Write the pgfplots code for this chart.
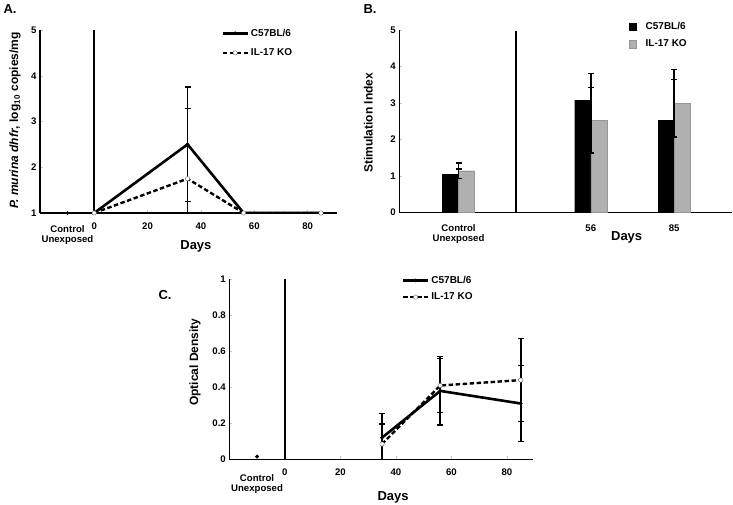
\documentclass[border=0pt]{standalone}
\usepackage{fontspec}
\setmainfont{Liberation Sans}
\usepackage{pgfplots}
\pgfplotsset{compat=1.18}
\definecolor{kogray}{HTML}{B0B0B0}
\newcommand{\ctrl}[1]{\raisebox{#1}[\height][\depth]{\shortstack{Control\\[0pt]Unexposed}}}
\pgfplotsset{
  myaxis/.style={
    scale only axis,
    anchor=south west,
    axis x line*=bottom,
    axis y line*=left,
    axis line style={line width=1.4pt,-},
    tick align=inside,
    tick style={draw=gray!45, line width=0.4pt},
    major tick length=3pt,
    /pgf/number format/assume math mode=true,
    every tick label/.append style={font=\bfseries\fontsize{9.6}{10}\selectfont},
    xticklabel style={align=center, yshift=-6pt},
    label style={font=\bfseries\fontsize{12}{13}\selectfont},
    every axis x label/.style={font=\bfseries\fontsize{13}{14}\selectfont},
    clip=true,
    legend cell align=left,
    legend style={draw=none, fill=none, inner sep=0pt, font=\bfseries\fontsize{10}{11}\selectfont},
    legend image code/.code={\draw[mark repeat=2,mark phase=2,##1] plot coordinates {(0pt,0pt) (12.5pt,0pt) (25pt,0pt)};},
  },
  c57/.style={black, line width=2.6pt, mark=*, mark size=1.6pt, mark options={solid, fill=black, line width=0.5pt},
    error bars/.cd, y dir=both, y explicit, error bar style={line width=1.8pt, solid}, error mark options={rotate=90, mark size=3pt, line width=1.5pt}},
  ko/.style={black, line width=2.4pt, dash pattern=on 4.5pt off 2.5pt, mark=*, mark size=2.2pt, mark options={solid, fill=white, draw=black!60, line width=0.4pt},
    error bars/.cd, y dir=both, y explicit, error bar style={line width=1.8pt, solid}, error mark options={rotate=90, mark size=3pt, line width=1.5pt}},
}
\begin{document}
\begin{tikzpicture}[x=1pt,y=1pt]
\path[use as bounding box] (0,0) rectangle (733,504);

% ---------------- Panel A ----------------
\begin{axis}[myaxis,
  at={(40pt,291pt)}, width=297pt, height=183pt,
  xmin=-20.3, xmax=91, ymin=1, ymax=5,
  xtick={0,20,40,60,80},
  extra x ticks={-10}, extra x tick labels={\ctrl{-3pt}},
  extra x tick style={tick style={draw=none}},
  ytick={1,2,3,4,5},
  xlabel={Days},
  every axis x label/.append style={at={(axis description cs:0.525,-0.18)}, anchor=center},
  ylabel={\itshape P. murina dhfr\upshape, log\textsubscript{10} copies/mg},
  every axis y label/.append style={at={(axis description cs:-0.084,0.505)}, anchor=center},
  legend style={at={(axis description cs:0.61,1.018)}, anchor=north west, row sep=7pt},
]
\addplot[black, line width=1.4pt, forget plot] coordinates {(0,1) (0,5)};
\addplot[c57] coordinates {(0,1) (35,2.5) +- (0,1.25) (56,1) (85,1)};
\addplot[ko] coordinates {(0,1) (35,1.75) +- (0,1.53) (56,1) (85,1)};
\addplot[black, only marks, mark=*, mark size=1.6pt, forget plot] coordinates {(-10,1)};
\legend{C57BL/6, IL-17 KO}
\end{axis}

% ---------------- Panel B ----------------
\begin{axis}[myaxis,
  at={(399.3pt,291.7pt)}, width=332.4pt, height=182.3pt,
  xmin=-10.6, xmax=105, ymin=0, ymax=5,
  xtick={10,56,85}, xticklabels={\ctrl{0pt},56,85},
  x tick style={draw=none},
  xticklabel style={yshift=-3pt},
  ytick={0,1,2,3,4,5},
  xlabel={Days},
  every axis x label/.append style={at={(axis description cs:0.684,-0.14)}, anchor=center},
  ylabel={Stimulation Index},
  every axis y label/.append style={at={(axis description cs:-0.093,0.49)}, anchor=center},
  legend style={at={(axis description cs:0.69,1.055)}, anchor=north west, row sep=5pt},
  legend image code/.code={\fill[#1] (0pt,-3.7pt) rectangle (7.4pt,3.7pt);},
  legend style={/tikz/every odd column/.append style={column sep=7pt}},
]
\addplot[black, line width=1.4pt, forget plot] coordinates {(30,0) (30,4.98)};
\addplot[ybar, bar width=5.6, bar shift=-2.8, fill=black, draw=black,
  error bars/.cd, y dir=both, y explicit, error bar style={line width=1.5pt}, error mark options={rotate=90, mark size=3pt, line width=1.4pt}]
  coordinates {(10,1.05) +- (0,0.14) (56,3.08) +- (0,0.73) (85,2.53) +- (0,1.12)};
\addplot[ybar, bar width=5.6, bar shift=2.8, fill=kogray, draw=kogray!85!black, line width=0.3pt,
  error bars/.cd, y dir=both, y explicit, error bar style={line width=1.5pt, black}, error mark options={rotate=90, mark size=3pt, line width=1.4pt, black}]
  coordinates {(10,1.14) +- (0,0.21) (56,2.53) +- (0,0.9) (85,2.99) +- (0,0.93)};
\legend{C57BL/6, IL-17 KO}
\end{axis}

% ---------------- Panel C ----------------
\begin{axis}[myaxis,
  at={(229.3pt,44.7pt)}, width=303.4pt, height=180pt,
  xmin=-20, xmax=89.3, ymin=0, ymax=1,
  xtick={0,20,40,60,80},
  extra x ticks={-10}, extra x tick labels={\ctrl{-6pt}},
  extra x tick style={tick style={draw=none}},
  ytick={0,0.2,0.4,0.6,0.8,1},
  yticklabels={0,0.2,0.4,0.6,0.8,1},
  xlabel={Days},
  every axis x label/.append style={at={(axis description cs:0.54,-0.21)}, anchor=center},
  ylabel={Optical Density},
  every axis y label/.append style={at={(axis description cs:-0.113,0.54)}, anchor=center},
  legend style={at={(axis description cs:0.568,1.03)}, anchor=north west, row sep=4pt},
]
\addplot[black, line width=1.4pt, forget plot] coordinates {(0,0) (0,1)};
\addplot[c57] coordinates {(35,0.12) +- (0,0.134) (56,0.38) +- (0,0.19) (85,0.31) +- (0,0.21)};
\addplot[ko] coordinates {(35,0.085) +- (0,0.11) (56,0.41) +- (0,0.15) (85,0.44) +- (0,0.23)};
\addplot[black, only marks, mark=*, mark size=1.8pt, forget plot] coordinates {(-10,0.015)};
\legend{C57BL/6, IL-17 KO}
\end{axis}

% panel letters
\node[font=\bfseries\fontsize{13}{14}\selectfont] at (10,495) {A.};
\node[font=\bfseries\fontsize{13}{14}\selectfont] at (370,495) {B.};
\node[font=\bfseries\fontsize{13}{14}\selectfont] at (165,209) {C.};
\end{tikzpicture}
\end{document}
